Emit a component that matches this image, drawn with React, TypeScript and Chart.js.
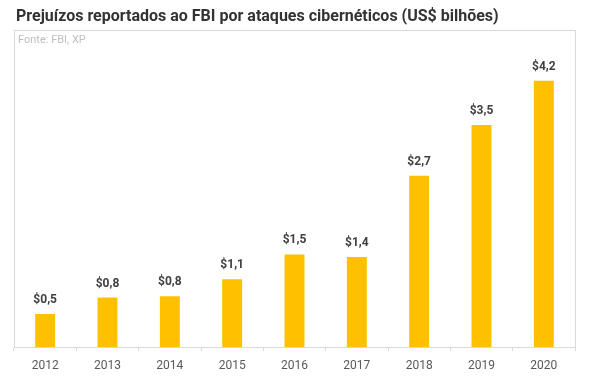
import { useEffect, useRef } from 'react';
import { Chart, registerables } from 'chart.js';

Chart.register(...registerables);

const categories = ['2012', '2013', '2014', '2015', '2016', '2017', '2018', '2019', '2020'];
const losses = [0.52, 0.78, 0.8, 1.07, 1.46, 1.42, 2.7, 3.5, 4.2];
const titleText = 'Prejuízos reportados ao FBI por ataques cibernéticos (US$ bilhões)';
const sourceText = 'Fonte: FBI, XP';

export default function App() {
  const ref = useRef<HTMLCanvasElement>(null);

  useEffect(() => {
    document.body.style.margin = '0';
    const decor = {
      id: 'decor',
      beforeDraw(chart: any) {
        const { ctx, chartArea: a } = chart;
        ctx.save();
        ctx.strokeStyle = '#d9d9d9';
        ctx.lineWidth = 1;
        ctx.strokeRect(Math.round(a.left) + 0.5, Math.round(a.top) + 0.5, Math.round(a.right - a.left), Math.round(a.bottom - a.top));
        ctx.fillStyle = '#333333';
        ctx.font = 'bold 16px Roboto';
        ctx.textBaseline = 'middle';
        ctx.textAlign = 'left';
        ctx.fillText(titleText, 16, 17);
        ctx.fillStyle = '#bfbfbf';
        ctx.font = '11px Roboto';
        ctx.fillText(sourceText, 18, 40);
        ctx.restore();
      },
      afterDatasetsDraw(chart: any) {
        const { ctx } = chart;
        const meta = chart.getDatasetMeta(0);
        ctx.save();
        ctx.fillStyle = '#404040';
        ctx.font = 'bold 12px Roboto';
        ctx.textAlign = 'center';
        ctx.textBaseline = 'middle';
        meta.data.forEach((bar: any, i: number) => {
          const v = losses[i].toFixed(1).replace('.', ',');
          ctx.fillText('$' + v, bar.x, bar.y - 14);
        });
        ctx.restore();
      },
    };
    const chart = new Chart(ref.current as HTMLCanvasElement, {
      type: 'bar',
      data: {
        labels: categories,
        datasets: [
          {
            data: losses,
            backgroundColor: '#FFC000',
            barPercentage: 0.32,
            categoryPercentage: 1,
          },
        ],
      },
      options: {
        responsive: false,
        animation: false,
        layout: { padding: { left: 14, right: 25, top: 30, bottom: 0 } },
        plugins: { legend: { display: false }, tooltip: { enabled: false }, title: { display: false } },
        scales: {
          y: { display: false, min: 0, max: 5 },
          x: {
            afterFit: (s: any) => { s.height = 31; },
            grid: { drawOnChartArea: false, drawTicks: true, tickLength: 4, color: '#d9d9d9' },
            border: { display: true, color: '#d9d9d9' },
            ticks: { color: '#595959', font: { family: 'Roboto', size: 12 }, padding: 8 },
          },
        },
      },
      plugins: [decor],
    });
    return () => chart.destroy();
  }, []);

  return (
    <div style={{ width: 600, height: 378 }}>
      <canvas ref={ref} width={600} height={378} />
    </div>
  );
}
